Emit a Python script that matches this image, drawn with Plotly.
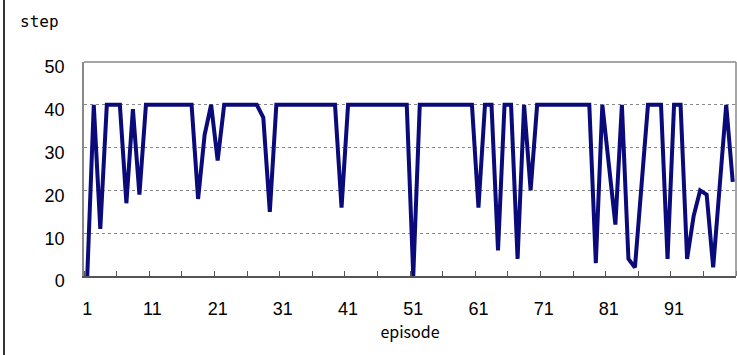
import plotly.graph_objects as go

episodes = list(range(1, 101))
steps = [0, 40, 11, 40, 40, 40, 17, 39, 19, 40,
         40, 40, 40, 40, 40, 40, 40, 18, 33, 40,
         27, 40, 40, 40, 40, 40, 40, 37, 15, 40,
         40, 40, 40, 40, 40, 40, 40, 40, 40, 16,
         40, 40, 40, 40, 40, 40, 40, 40, 40, 40,
         0, 40, 40, 40, 40, 40, 40, 40, 40, 40,
         16, 40, 40, 6, 40, 40, 4, 40, 20, 40,
         40, 40, 40, 40, 40, 40, 40, 40, 3, 40,
         26, 12, 40, 4, 2, 21, 40, 40, 40, 4,
         40, 40, 4, 14, 20, 19, 2, 21, 40, 22]
x_tick_vals = [1, 11, 21, 31, 41, 51, 61, 71, 81, 91]
x_tick_text = [str(v) for v in x_tick_vals]
y_tick_vals = [0, 10, 20, 30, 40, 50]
minor_tick_vals = [0.5 + 5 * k for k in range(21)]

fig = go.Figure()
fig.add_trace(go.Scatter(x=episodes, y=steps, mode="lines",
                         line=dict(color="#0a0a7a", width=4), showlegend=False))

L, R, T, B = 84, 1, 62, 79
W = 737 - L - R
H = 355 - T - B
fig.update_layout(
    width=737, height=355,
    margin=dict(l=L, r=R, t=T, b=B),
    paper_bgcolor="white", plot_bgcolor="white",
    font=dict(family="Liberation Sans", size=18, color="black"),
)
fig.update_xaxes(
    range=[0.5, 100.5], tickvals=x_tick_vals, ticktext=x_tick_text,
    ticks="", showgrid=False, zeroline=False,
    showline=True, linecolor="#555555", linewidth=1.5, mirror=False,
    minor=dict(tickvals=minor_tick_vals, ticks="inside", ticklen=5,
               tickcolor="#555555", showgrid=False),
    title=dict(text="episode", font=dict(family="Noto Sans CJK JP", size=16), standoff=5),
    ticklabelstandoff=16,
)
fig.update_yaxes(
    range=[0, 50], tickvals=y_tick_vals, ticks="",
    showgrid=True, gridcolor="#888888", griddash="dot", gridwidth=1,
    zeroline=False, showline=True, linecolor="#888888", linewidth=1.5,
    ticklabelstandoff=14, ticklabelshift=5,
)
# plot frame (top and right edges)
fig.add_shape(type="line", xref="paper", yref="paper", x0=0, x1=1, y0=1, y1=1,
              line=dict(color="#888888", width=1.5))
fig.add_shape(type="line", xref="paper", yref="paper", x0=1, x1=1, y0=0, y1=1,
              line=dict(color="#888888", width=1.5))
# outer chart border on the left
fig.add_shape(type="line", xref="paper", yref="paper",
              x0=(4 - L) / W, x1=(4 - L) / W, y0=-B / H, y1=1 + T / H,
              line=dict(color="#333333", width=2))
fig.add_annotation(text="step", xref="paper", yref="paper",
                   x=(18 - L) / W, y=1 + (T - 22) / H,
                   xanchor="left", yanchor="middle", showarrow=False,
                   font=dict(family="DejaVu Sans Mono", size=16, color="black"))

fig.write_html("out.html")
